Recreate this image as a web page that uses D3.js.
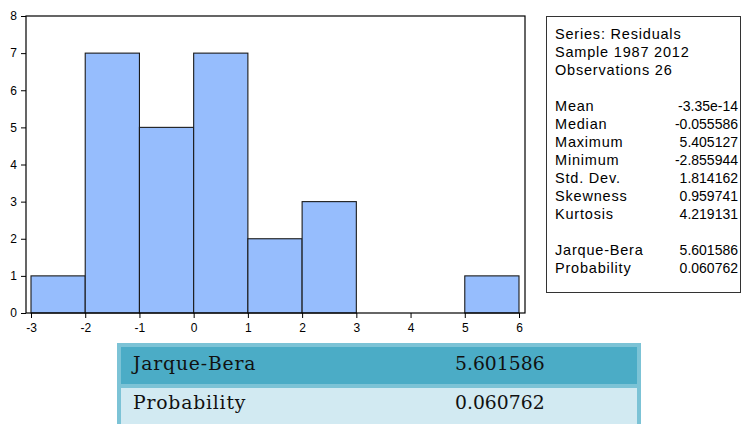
<!DOCTYPE html>
<html>
<head>
<meta charset="utf-8">
<script src="https://cdn.jsdelivr.net/npm/d3@7"></script>
<style>
  body { margin: 0; background: #fff; }
  svg { display: block; }
  .tick text { font-family: "Liberation Sans", Arial, sans-serif; font-size: 12px; fill: #000; }
  .stats text { font-family: "Liberation Sans", Arial, sans-serif; font-size: 14px; fill: #000; }
  .stats text.name { font-size: 14.5px; letter-spacing: 0.8px; }
  .tbl text { font-family: "DejaVu Serif", serif; font-size: 18.8px; fill: #111; }
  .tbl text.name { letter-spacing: 0.8px; }
</style>
</head>
<body>
<div id="chart"></div>
<script>
// histogram of residuals: bin edges and counts
var binEdges = [-3, -2, -1, 0, 1, 2, 3, 4, 5, 6];
var binCounts = [1, 7, 5, 7, 2, 3, 0, 0, 1];
var xTicks = [-3, -2, -1, 0, 1, 2, 3, 4, 5, 6];
var yTicks = [0, 1, 2, 3, 4, 5, 6, 7, 8];

// summary box
var headerLines = ["Series: Residuals", "Sample 1987 2012", "Observations 26"];
var statNames = ["Mean", "Median", "Maximum", "Minimum", "Std. Dev.", "Skewness", "Kurtosis"];
var statValues = ["-3.35e-14", "-0.055586", "5.405127", "-2.855944", "1.814162", "0.959741", "4.219131"];
var testNames = ["Jarque-Bera", "Probability"];
var testValues = ["5.601586", "0.060762"];

var width = 742, height = 424;
var frame = { left: 26, top: 16, right: 525, bottom: 313 };

var svg = d3.select("#chart").append("svg")
    .attr("width", width)
    .attr("height", height);

var x = d3.scaleLinear().domain([-3, 6]).range([31, 519]);
var y = d3.scaleLinear().domain([0, 8]).range([frame.bottom, frame.top]);

var bins = binCounts.map(function (c, i) {
    return { x0: binEdges[i], x1: binEdges[i + 1], count: c };
});

// bars
svg.append("g")
    .selectAll("rect")
    .data(bins.filter(function (d) { return d.count > 0; }))
  .enter().append("rect")
    .attr("x", function (d) { return x(d.x0); })
    .attr("y", function (d) { return y(d.count); })
    .attr("width", function (d) { return x(d.x1) - x(d.x0); })
    .attr("height", function (d) { return y(0) - y(d.count); })
    .attr("fill", "#96bdfd")
    .attr("stroke", "#1a1a1a")
    .attr("stroke-width", 1.1);

// frame
svg.append("rect")
    .attr("x", frame.left)
    .attr("y", frame.top)
    .attr("width", frame.right - frame.left)
    .attr("height", frame.bottom - frame.top)
    .attr("fill", "none")
    .attr("stroke", "#000")
    .attr("stroke-width", 1.2);

// plain hyphen for negatives, like the original
var plain = function (d) { return String(d); };

var yAxis = svg.append("g")
    .attr("transform", "translate(" + frame.left + ",0)")
    .call(d3.axisLeft(y).tickValues(yTicks).tickFormat(plain)
        .tickSize(5).tickSizeOuter(0).tickPadding(4));
yAxis.select(".domain").remove();

var xAxis = svg.append("g")
    .attr("transform", "translate(0," + frame.bottom + ")")
    .call(d3.axisBottom(x).tickValues(xTicks).tickFormat(plain)
        .tickSize(5).tickSizeOuter(0).tickPadding(5));
xAxis.select(".domain").remove();

svg.selectAll(".tick line").attr("stroke", "#000");

// stats box
var stats = svg.append("g").attr("class", "stats");
stats.append("rect")
    .attr("x", 546.5).attr("y", 16.5)
    .attr("width", 194).attr("height", 276)
    .attr("fill", "#fff")
    .attr("stroke", "#333")
    .attr("stroke-width", 1);

var lineH = 18, textX = 555, valX = 738;
var rows = [];
headerLines.forEach(function (t) { rows.push([t, ""]); });
rows.push(["", ""]);
statNames.forEach(function (t, i) { rows.push([t, statValues[i]]); });
rows.push(["", ""]);
testNames.forEach(function (t, i) { rows.push([t, testValues[i]]); });

rows.forEach(function (r, i) {
    var by = 39 + i * lineH;
    stats.append("text").attr("class", "name").attr("x", textX).attr("y", by).text(r[0]);
    if (r[1]) {
        stats.append("text").attr("x", valX).attr("y", by)
            .attr("text-anchor", "end").text(r[1]);
    }
});

// table underneath
var tbl = svg.append("g").attr("class", "tbl");
tbl.append("rect")
    .attr("x", 117).attr("y", 343)
    .attr("width", 524).attr("height", 90)
    .attr("fill", "#7cc3d6");
var rowFill = ["#4bacc6", "#d2eaf2"];
var rowTop = [347, 388];
var rowH = [37, 45];
testNames.forEach(function (t, i) {
    tbl.append("rect")
        .attr("x", 121).attr("y", rowTop[i])
        .attr("width", 516).attr("height", rowH[i])
        .attr("fill", rowFill[i]);
    tbl.append("text").attr("class", "name").attr("x", 133).attr("y", 370 + i * 39).text(t);
    tbl.append("text").attr("x", 455).attr("y", 370 + i * 39).text(testValues[i]);
});
</script>
</body>
</html>
